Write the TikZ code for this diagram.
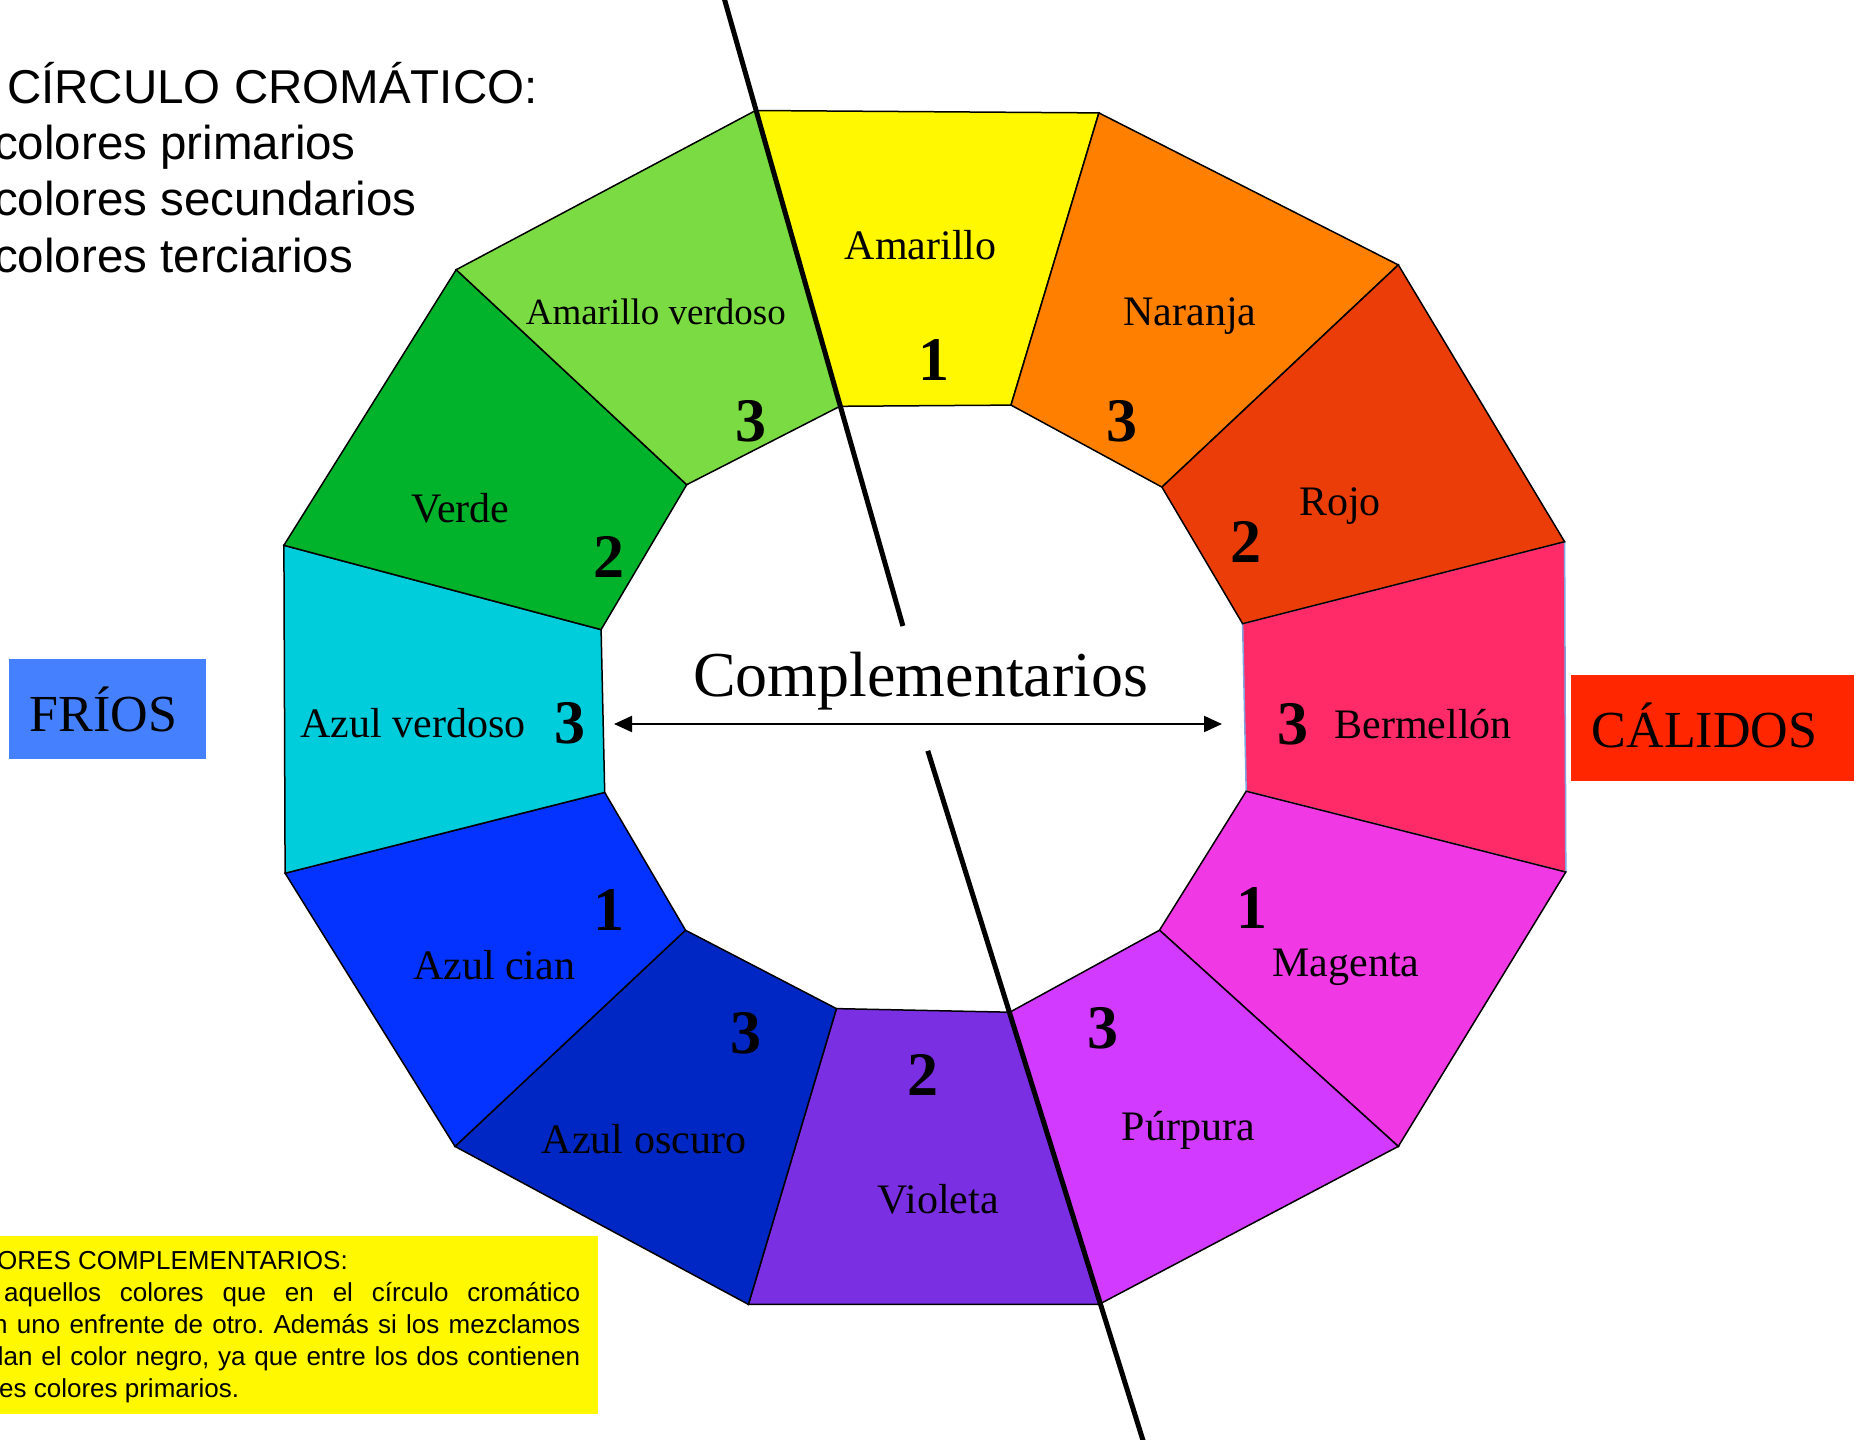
\documentclass[tikz,border=0pt]{standalone}
\usepackage{fontspec}
\setmainfont{Liberation Serif}
\newfontfamily\arialfont{Liberation Sans}
\usepackage{tikz}
\usetikzlibrary{arrows.meta}
\frenchspacing

\definecolor{colAmarillo}{RGB}{255,248,0}
\definecolor{colNaranja}{RGB}{255,127,0}
\definecolor{colRojo}{RGB}{235,61,8}
\definecolor{colBermellon}{RGB}{255,42,104}
\definecolor{colMagenta}{RGB}{240,56,228}
\definecolor{colPurpura}{RGB}{210,58,255}
\definecolor{colVioleta}{RGB}{123,47,227}
\definecolor{colAzulOscuro}{RGB}{0,39,196}
\definecolor{colAzulCian}{RGB}{4,51,255}
\definecolor{colAzulVerdoso}{RGB}{0,205,220}
\definecolor{colVerde}{RGB}{0,179,42}
\definecolor{colAmVerdoso}{RGB}{123,219,66}
\definecolor{colFrios}{RGB}{69,129,255}
\definecolor{colCalidos}{RGB}{255,38,0}
\definecolor{colNota}{RGB}{255,248,0}
\definecolor{colBorde}{RGB}{126,166,224}

\begin{document}
\begin{tikzpicture}[
    x=1pt, y=-1pt,
    seg/.style={draw=black, line width=1.5pt, line join=miter},
    lbl/.style={font=\fontsize{42}{48}\selectfont, inner sep=0pt, anchor=base},
    num/.style={font=\fontsize{62}{68}\selectfont\bfseries, inner sep=0pt, anchor=base},
    tag/.style={font=\fontsize{52}{60}\selectfont, inner sep=0pt, text depth=0pt},
    txt/.style={font=\arialfont\fontsize{47.5}{56}\selectfont, inner sep=0pt, anchor=base west},
    nota/.style={font=\arialfont\fontsize{26}{32}\selectfont, inner sep=0pt, anchor=base west},
    split/.style={draw=black, line width=5pt},
    pair/.style={<->, line width=2pt, >={Triangle[length=18pt,width=16pt]}}
]
    \useasboundingbox (0,0) rectangle (1863,1440);

    % === OUTER CORNERS ===
    \coordinate (o1) at (755.6,110.5);
    \coordinate (o2) at (1098.9,112.9);
    \coordinate (o3) at (1398.3,264.9);
    \coordinate (o4) at (1564.6,541.7);
    \coordinate (o5) at (1565.8,872.0);
    \coordinate (o6) at (1398.3,1146.4);
    \coordinate (o7) at (1098.9,1304.4);
    \coordinate (o8) at (748.4,1304.4);
    \coordinate (o9) at (455.0,1146.4);
    \coordinate (o10) at (285.1,873.2);
    \coordinate (o11) at (283.9,545.3);
    \coordinate (o12) at (456.2,269.7);

    % === INNER CORNERS ===
    \coordinate (i1) at (839.9,406.3);
    \coordinate (i2) at (1011.0,405.1);
    \coordinate (i3) at (1161.9,487.1);
    \coordinate (i4) at (1242.6,623.7);
    \coordinate (i5) at (1246.2,791.2);
    \coordinate (i6) at (1159.5,930.2);
    \coordinate (i7) at (1009.8,1012.2);
    \coordinate (i8) at (836.4,1008.6);
    \coordinate (i9) at (685.5,930.2);
    \coordinate (i10) at (604.7,792.4);
    \coordinate (i11) at (601.1,629.6);
    \coordinate (i12) at (686.7,484.7);

    % === SEGMENTS ===
    % Bermellon first, its sides are light blue
    \filldraw[seg, draw=colBorde, fill=colBermellon] (o4) -- (o5) -- (i5) -- (i4) -- cycle;
    \filldraw[seg, fill=colAmarillo] (o1) -- (o2) -- (i2) -- (i1) -- cycle;
    \filldraw[seg, fill=colNaranja] (o2) -- (o3) -- (i3) -- (i2) -- cycle;
    \filldraw[seg, fill=colRojo] (o3) -- (o4) -- (i4) -- (i3) -- cycle;
    \filldraw[seg, fill=colMagenta] (o5) -- (o6) -- (i6) -- (i5) -- cycle;
    \filldraw[seg, fill=colPurpura] (o6) -- (o7) -- (i7) -- (i6) -- cycle;
    \filldraw[seg, fill=colVioleta] (o7) -- (o8) -- (i8) -- (i7) -- cycle;
    \filldraw[seg, fill=colAzulOscuro] (o8) -- (o9) -- (i9) -- (i8) -- cycle;
    \filldraw[seg, fill=colAzulCian] (o9) -- (o10) -- (i10) -- (i9) -- cycle;
    \filldraw[seg, fill=colAzulVerdoso] (o10) -- (o11) -- (i11) -- (i10) -- cycle;
    \filldraw[seg, fill=colVerde] (o11) -- (o12) -- (i12) -- (i11) -- cycle;
    \filldraw[seg, fill=colAmVerdoso] (o12) -- (o1) -- (i1) -- (i12) -- cycle;

    % === COLOUR NAMES ===
    \node[lbl] (amarillo) at (920.7,259) {Amarillo};
    \node[lbl, font=\fontsize{37}{42}\selectfont] (amverdoso) at (655.8,324) {Amarillo verdoso};
    \node[lbl] (naranja) at (1190,325) {Naranja};
    \node[lbl] (rojo) at (1340,515) {Rojo};
    \node[lbl] (verde) at (460.5,522) {Verde};
    \node[lbl] (bermellon) at (1423,738) {Bermellón};
    \node[lbl] (azverdoso) at (413,737) {Azul verdoso};
    \node[lbl] (magenta) at (1346,976) {Magenta};
    \node[lbl] (azcian) at (494.2,979) {Azul cian};
    \node[lbl] (purpura) at (1188.3,1140) {Púrpura};
    \node[lbl] (azoscuro) at (644,1153) {Azul oscuro};
    \node[lbl] (violeta) at (938.3,1213) {Violeta};

    % === ORDER NUMBERS ===
    \node[num] (nAmarillo) at (933.7,380) {1};
    \node[num] (nAmVerdoso) at (751,441) {3};
    \node[num] (nNaranja) at (1122,441) {3};
    \node[num] (nRojo) at (1246,562) {2};
    \node[num] (nVerde) at (609,577) {2};
    \node[num] (nBermellon) at (1293,744) {3};
    \node[num] (nAzVerdoso) at (570.3,743) {3};
    \node[num] (nMagenta) at (1251.5,928) {1};
    \node[num] (nAzCian) at (608.5,930) {1};
    \node[num] (nPurpura) at (1102.5,1048) {3};
    \node[num] (nAzOscuro) at (745.5,1053) {3};
    \node[num] (nVioleta) at (922.8,1095) {2};

    % === COMPLEMENTARY AXIS ===
    \coordinate (cutTop) at (721.8,-10);
    \coordinate (cutIn1) at (902.9,626);
    \coordinate (cutIn2) at (927.8,750.8);
    \coordinate (cutBot) at (1146,1450);
    \draw[split] (cutTop) -- (cutIn1);
    \draw[split] (cutIn2) -- (cutBot);

    \node[font=\fontsize{64}{70}\selectfont, inner sep=0pt, anchor=base] (compl) at (920.7,696) {Complementarios};
    \coordinate (arrL) at (614,724);
    \coordinate (arrR) at (1222,724);
    \draw[pair] (arrL) -- (arrR);

    % === WARM / COLD ===
    \node[tag, fill=colFrios, minimum width=196.7pt, minimum height=100pt, text height=44.8pt] (frios) at (107.4,709.3) {FRÍOS\kern8pt};
    \node[tag, fill=colCalidos, minimum width=283pt, minimum height=105.7pt, text height=38.4pt] (calidos) at (1712.5,727.8) {CÁLIDOS\kern16pt};

    % === TITLE ===
    \node[txt] (titulo) at (7,103) {CÍRCULO CROMÁTICO:};
    \node[txt] (prim) at (-6,159) {colores primarios};
    \node[txt] (secu) at (-6,215) {colores secundarios};
    \node[txt] (terc) at (-6,272) {colores terciarios};

    % === NOTE ===
    \node[fill=colNota, inner sep=0pt, minimum width=620pt, minimum height=178.2pt] (notabox) at (287.6,1324.6) {};
    \node[nota] (nota1) at (-3,1269) {ORES COMPLEMENTARIOS:};
    \node[nota] (nota2) at (4,1301) {\makebox[576pt][s]{aquellos colores que en el círculo cromático}};
    \node[nota] (nota3) at (-7,1333) {\makebox[587pt][s]{n uno enfrente de otro. Además si los mezclamos}};
    \node[nota] (nota4) at (-11,1365) {\makebox[591pt][s]{dan el color negro, ya que entre los dos contienen}};
    \node[nota] (nota5) at (-1,1397) {es colores primarios.};

\end{tikzpicture}
\end{document}
